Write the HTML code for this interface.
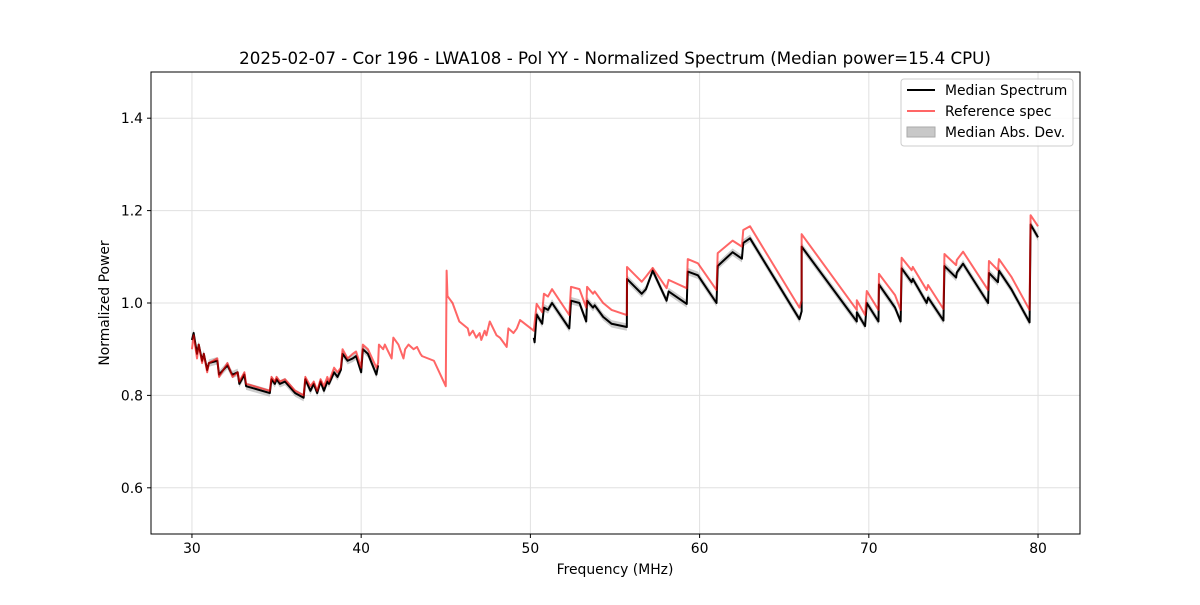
<!DOCTYPE html>
<html><head><meta charset="utf-8"><style>
body{margin:0;background:#fff;}
svg text{font-family:"DejaVu Sans","Liberation Sans",sans-serif;}
</style></head><body>
<svg id="chart" width="1200" height="600" xmlns="http://www.w3.org/2000/svg">
<rect width="1200" height="600" fill="#fff"/>
<text x="615" y="64" font-size="16.67" text-anchor="middle">2025-02-07 - Cor 196 - LWA108 - Pol YY - Normalized Spectrum (Median power=15.4 CPU)</text>
<g id="grid"></g>
<g id="marks"></g>
<rect x="151" y="72" width="929" height="462" fill="none" stroke="#000" stroke-width="1"/>
<g id="ticks"></g>
<text x="615" y="574" font-size="13.9" text-anchor="middle">Frequency (MHz)</text>
<text transform="translate(109,303) rotate(-90)" font-size="13.9" text-anchor="middle">Normalized Power</text>
<g>
<rect x="901" y="79" width="172" height="67" rx="3" fill="#fff" fill-opacity="0.85" stroke="#ccc"/>
<g><line x1="907" y1="90" x2="935" y2="90" stroke="#000" stroke-width="2"/><text x="945" y="95" font-size="13.9">Median Spectrum</text></g>
<g><line x1="907" y1="111" x2="935" y2="111" stroke="#ff6666" stroke-width="2"/><text x="945" y="116" font-size="13.9">Reference spec</text></g>
<g><rect x="907" y="127" width="28" height="10" fill="#c8c8c8" stroke="#aaa"/><text x="945" y="137" font-size="13.9">Median Abs. Dev.</text></g>
</g>
</svg>
<script>
const xTicks=[30,40,50,60,70,80];
const yTicks=[0.6,0.8,1.0,1.2,1.4];
const yTickLabels=["0.6","0.8","1.0","1.2","1.4"];
const refFreq=[30.0,30.1,30.3,30.4,30.6,30.7,30.9,31.0,31.5,31.6,32.1,32.3,32.4,32.7,32.8,33.1,33.2,34.6,34.7,34.9,35.0,35.2,35.5,36.1,36.6,36.7,37.0,37.2,37.4,37.6,37.8,38.0,38.1,38.4,38.6,38.8,38.9,39.2,39.5,39.7,40.0,40.1,40.4,40.9,41.0,41.05,41.3,41.4,41.6,41.8,41.9,42.2,42.5,42.6,42.8,43.1,43.3,43.5,43.6,44.3,45.0,45.05,45.1,45.4,45.8,46.3,46.4,46.6,46.8,47.0,47.1,47.3,47.4,47.6,48.0,48.2,48.6,48.7,49.0,49.2,49.39,50.2,50.37,50.7,50.8,51.04,51.28,52.3,52.4,52.9,53.3,53.35,53.7,53.8,54.3,54.8,55.7,55.71,56.58,56.83,57.23,58.05,58.17,59.24,59.3,59.9,61.0,61.07,61.95,62.5,62.58,62.98,65.9,66.03,66.03,69.29,69.29,69.78,69.88,70.57,70.6,71.55,71.88,71.94,72.53,72.6,73.42,73.5,74.41,74.47,75.16,75.2,75.57,77.05,77.1,77.63,77.69,78.42,79.5,79.56,80.0];
const refPower=[0.90,0.93,0.88,0.91,0.87,0.89,0.85,0.87,0.88,0.84,0.87,0.85,0.84,0.85,0.83,0.85,0.825,0.81,0.84,0.83,0.84,0.83,0.835,0.81,0.80,0.84,0.82,0.83,0.81,0.835,0.82,0.84,0.83,0.86,0.85,0.86,0.90,0.88,0.89,0.895,0.86,0.91,0.90,0.86,0.87,0.91,0.90,0.91,0.895,0.88,0.925,0.91,0.88,0.90,0.91,0.90,0.905,0.89,0.885,0.875,0.82,1.07,1.015,1.0,0.96,0.945,0.93,0.94,0.925,0.935,0.92,0.94,0.93,0.96,0.93,0.925,0.905,0.945,0.935,0.945,0.963,0.94,0.998,0.98,1.02,1.014,1.03,0.974,1.035,1.03,0.99,1.035,1.02,1.025,1.0,0.985,0.974,1.078,1.046,1.057,1.076,1.032,1.05,1.032,1.095,1.086,1.028,1.108,1.135,1.122,1.158,1.166,0.99,1.006,1.149,0.985,1.006,0.974,1.026,0.985,1.063,1.017,0.985,1.098,1.071,1.078,1.028,1.039,0.987,1.106,1.082,1.093,1.111,1.028,1.091,1.071,1.095,1.057,0.985,1.19,1.166];
const medFreq=[30.0,30.1,30.3,30.4,30.6,30.7,30.9,31.0,31.5,31.6,32.1,32.3,32.4,32.7,32.8,33.1,33.2,34.6,34.7,34.9,35.0,35.2,35.5,36.1,36.6,36.7,37.0,37.2,37.4,37.6,37.8,38.0,38.1,38.4,38.6,38.8,38.9,39.2,39.5,39.7,40.0,40.1,40.4,40.9,41.0,null,50.2,50.25,50.37,50.7,50.8,51.04,51.28,52.3,52.4,52.9,53.3,53.35,53.7,53.8,54.3,54.8,55.7,55.71,56.58,56.83,57.23,58.05,58.17,59.24,59.3,59.9,61.0,61.07,61.95,62.5,62.58,62.98,65.9,66.03,66.03,69.29,69.29,69.78,69.88,70.57,70.6,71.55,71.88,71.94,72.53,72.6,73.42,73.5,74.41,74.47,75.16,75.2,75.57,77.05,77.1,77.63,77.69,78.42,79.5,79.56,80.0];
const medPower=[0.92,0.935,0.89,0.91,0.875,0.89,0.855,0.87,0.875,0.845,0.865,0.85,0.845,0.85,0.825,0.845,0.82,0.805,0.835,0.825,0.835,0.825,0.83,0.805,0.795,0.835,0.81,0.825,0.805,0.83,0.81,0.83,0.825,0.85,0.84,0.855,0.89,0.875,0.88,0.885,0.85,0.90,0.89,0.845,0.865,null,0.925,0.915,0.975,0.955,0.99,0.985,1.0,0.945,1.005,1.0,0.96,1.005,0.99,0.995,0.97,0.955,0.948,1.052,1.02,1.03,1.07,1.005,1.025,0.998,1.068,1.06,1.0,1.08,1.11,1.096,1.13,1.14,0.965,0.982,1.122,0.96,0.98,0.95,1.0,0.96,1.04,0.99,0.96,1.075,1.045,1.052,1.0,1.012,0.962,1.08,1.055,1.066,1.085,1.0,1.065,1.045,1.07,1.03,0.958,1.17,1.142];
const MAD=0.008;
const NS="http://www.w3.org/2000/svg";
const X0=151,X1=1080,Y0=534,Y1=72,XMIN=27.58,XMAX=82.48,YMIN=0.5,YMAX=1.5;
function sx(f){return X0+(f-XMIN)/(XMAX-XMIN)*(X1-X0);}
function sy(p){return Y0-(p-YMIN)/(YMAX-YMIN)*(Y0-Y1);}
function mk(tag,attrs,parent){const e=document.createElementNS(NS,tag);for(const k in attrs)e.setAttribute(k,attrs[k]);parent.appendChild(e);return e;}
const grid=document.getElementById('grid'),ticks=document.getElementById('ticks'),marks=document.getElementById('marks');
xTicks.forEach(t=>{const x=sx(t);
 const g=mk('line',{x1:x,x2:x,y1:Y1,y2:Y0,stroke:'#e0e0e0','stroke-width':1},grid);
 
 
 mk('line',{x1:x,x2:x,y1:Y0,y2:Y0+4,stroke:'#000'},ticks);
 const l=mk('text',{x:x,y:Y0+19,'font-size':13.9,'text-anchor':'middle'},ticks);l.textContent=t;
 
 });
yTicks.forEach((t,i)=>{const y=sy(t);
 const g=mk('line',{x1:X0,x2:X1,y1:y,y2:y,stroke:'#e0e0e0','stroke-width':1},grid);
 
 
 mk('line',{x1:X0-4,x2:X0,y1:y,y2:y,stroke:'#000'},ticks);
 const l=mk('text',{x:X0-8,y:y+5,'font-size':13.9,'text-anchor':'end'},ticks);l.textContent=yTickLabels[i];
 
 });
const segs=[];let cur=[];
medFreq.forEach((f,i)=>{if(f===null){segs.push(cur);cur=[];}else cur.push([f,medPower[i]]);});segs.push(cur);
segs.forEach(s=>{
 const up=s.map(p=>sx(p[0])+','+sy(p[1]+MAD)).join(' ');
 const dn=s.slice().reverse().map(p=>sx(p[0])+','+sy(p[1]-MAD)).join(' ');
 const b=mk('polygon',{points:up+' '+dn,fill:'#999','fill-opacity':0.5,stroke:'none'},marks);
 
 
});
segs.forEach(s=>{
 const l=mk('polyline',{points:s.map(p=>sx(p[0])+','+sy(p[1])).join(' '),fill:'none',stroke:'#000','stroke-width':2,'stroke-linejoin':'round'},marks);
 
 
});
const r=mk('polyline',{points:refFreq.map((f,i)=>sx(f)+','+sy(refPower[i])).join(' '),fill:'none',stroke:'#ff0000','stroke-opacity':0.6,'stroke-width':2,'stroke-linejoin':'round'},marks);


</script>
</body></html>
